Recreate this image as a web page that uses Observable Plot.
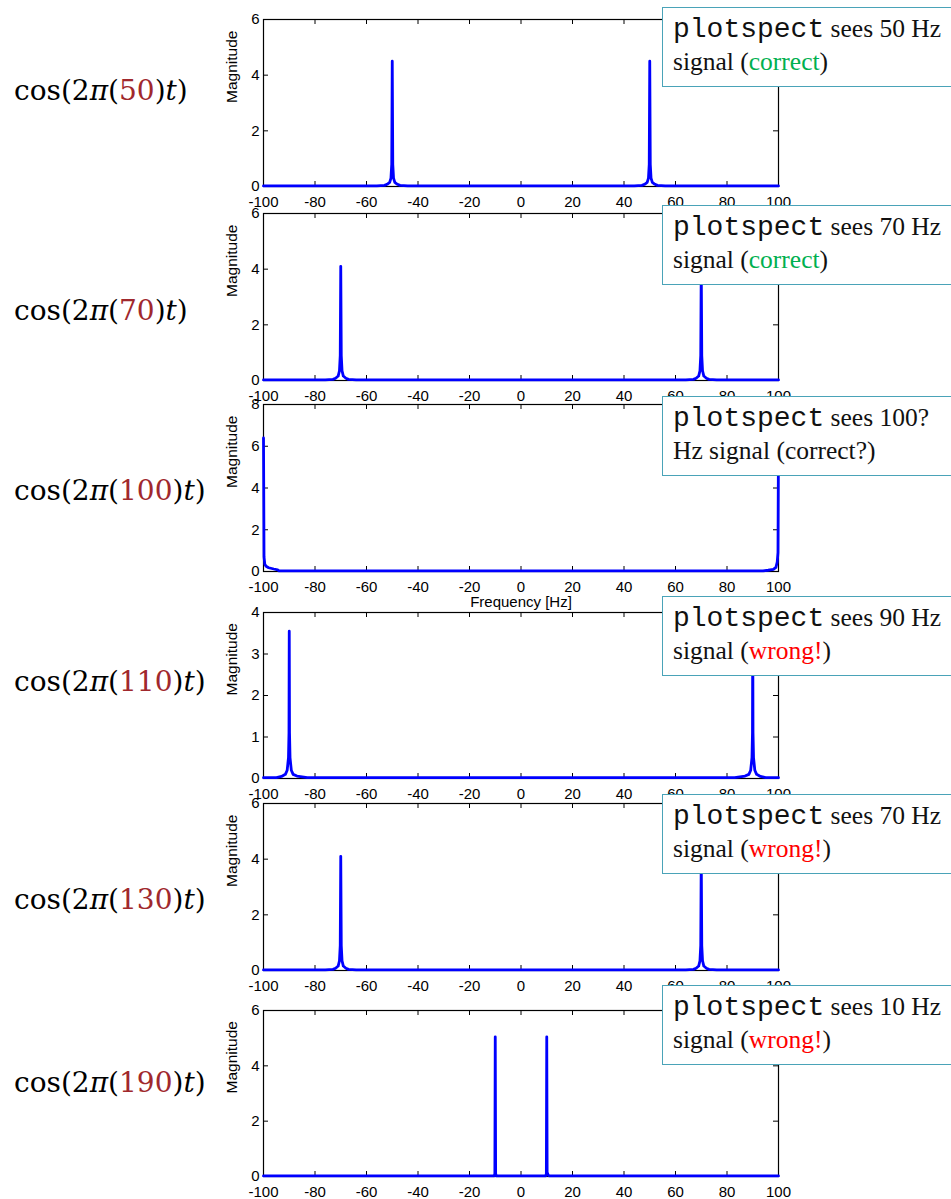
<!DOCTYPE html>
<html><head><meta charset="utf-8">
<script src="https://cdn.jsdelivr.net/npm/d3@7"></script>
<script src="https://cdn.jsdelivr.net/npm/@observablehq/plot@0.6"></script>
<style>
html,body{margin:0;padding:0;background:#fff;}
#page{position:relative;width:951px;height:1199px;overflow:hidden;background:#fff;}
.panel{position:absolute;left:0;}
.panel svg{background:transparent;}
.formula{position:absolute;left:14px;height:40px;line-height:40px;font-family:"DejaVu Serif",serif;font-size:28px;color:#000;white-space:nowrap;}
.formula i{font-style:italic;}
.formula .n{color:#a0282d;}
.box{position:absolute;left:662px;width:320px;height:80px;box-sizing:border-box;border:1.5px solid #4aa3b8;background:#fff;}
.box .ln{position:absolute;left:10px;height:30px;line-height:30px;white-space:nowrap;font-family:"Liberation Serif",serif;font-size:25.5px;color:#111;}
.box .mono{font-family:"Liberation Mono",monospace;font-size:28px;}
.box .ok{color:#00b050;}
.box .bad{color:#ff0000;}
</style></head>
<body><div id="page"></div>
<script>
// ---- data ----
const xTicks = [-100, -80, -60, -40, -20, 0, 20, 40, 60, 80, 100];
const signalFreqs = ["50", "70", "100", "110", "130", "190"];
const seenLine1 = ["sees 50 Hz", "sees 70 Hz", "sees 100?", "sees 90 Hz", "sees 70 Hz", "sees 10 Hz"];
const seenLine2 = ["signal (", "signal (", "Hz signal (correct?)", "signal (", "signal (", "signal ("];
const verdicts = ["correct", "correct", "", "wrong!", "wrong!", "wrong!"];
const verdictKinds = ["ok", "ok", "", "bad", "bad", "bad"];
const yMaxes = [6, 6, 8, 4, 6, 6];
const yTicks1 = [0, 2, 4, 6];
const yTicks2 = [0, 2, 4, 6];
const yTicks3 = [0, 2, 4, 6, 8];
const yTicks4 = [0, 1, 2, 3, 4];
const yTicks5 = [0, 2, 4, 6];
const yTicks6 = [0, 2, 4, 6];

// panel 1: cos(2pi 50 t)
const freq1 = [-100, -56, -53, -52, -51, -50.5, -50.2, -50, -49.8, -49.5, -49, -48, -47, -44,
               44, 47, 48, 49, 49.5, 49.8, 50, 50.2, 50.5, 51, 52, 53, 56, 100];
const mag1  = [0.02, 0.02, 0.04, 0.08, 0.15, 0.3, 0.8, 4.5, 0.8, 0.3, 0.15, 0.08, 0.04, 0.02,
               0.02, 0.04, 0.08, 0.15, 0.3, 0.8, 4.5, 0.8, 0.3, 0.15, 0.08, 0.04, 0.02, 0.02];
// panel 2: cos(2pi 70 t)
const freq2 = [-100, -76, -73, -72, -71, -70.5, -70.2, -70, -69.8, -69.5, -69, -68, -67, -64,
               64, 67, 68, 69, 69.5, 69.8, 70, 70.2, 70.5, 71, 72, 73, 76, 100];
const mag2  = [0.02, 0.02, 0.04, 0.08, 0.16, 0.35, 0.9, 4.1, 0.9, 0.35, 0.16, 0.08, 0.04, 0.02,
               0.02, 0.04, 0.08, 0.16, 0.35, 0.9, 4.1, 0.9, 0.35, 0.16, 0.08, 0.04, 0.02, 0.02];
// panel 3: cos(2pi 100 t)
const freq3 = [-100, -99.8, -99.5, -99, -98, -96, -94.5, -94, 94, 96, 98, 99, 99.5, 99.8, 100];
const mag3  = [6.4, 0.7, 0.35, 0.25, 0.18, 0.12, 0.08, 0.03, 0.03, 0.06, 0.1, 0.2, 0.45, 0.9, 6.4];
// panel 4: cos(2pi 110 t)
const freq4 = [-100, -95, -93, -91.5, -90.8, -90.3, -90.1, -90, -89.9, -89.7, -89.2, -88.5, -87, -85, -83,
               83, 85, 87, 88.5, 89.2, 89.7, 89.9, 90, 90.1, 90.3, 90.8, 91.5, 93, 95, 100];
const mag4  = [0.02, 0.02, 0.05, 0.1, 0.2, 0.5, 1.1, 3.55, 1.1, 0.5, 0.2, 0.1, 0.06, 0.04, 0.02,
               0.02, 0.04, 0.06, 0.1, 0.2, 0.5, 1.1, 3.55, 1.1, 0.5, 0.2, 0.1, 0.05, 0.02, 0.02];
// panel 5: cos(2pi 130 t)
const freq5 = [-100, -76, -73, -72, -71, -70.5, -70.2, -70, -69.8, -69.5, -69, -68, -67, -64,
               64, 67, 68, 69, 69.5, 69.8, 70, 70.2, 70.5, 71, 72, 73, 76, 100];
const mag5  = [0.02, 0.02, 0.04, 0.08, 0.16, 0.35, 0.9, 4.1, 0.9, 0.35, 0.16, 0.08, 0.04, 0.02,
               0.02, 0.04, 0.08, 0.16, 0.35, 0.9, 4.1, 0.9, 0.35, 0.16, 0.08, 0.04, 0.02, 0.02];
// panel 6: cos(2pi 190 t)
const freq6 = [-100, -10.4, -10.15, -10, -9.85, -9.6, 9.6, 9.85, 10, 10.15, 10.5, 11, 100];
const mag6  = [0.02, 0.02, 0.1, 5.05, 0.1, 0.02, 0.02, 0.1, 5.05, 0.15, 0.06, 0.02, 0.02];

// ---- layout ----
const frameTops = [19, 213, 404, 612, 803, 1010];
const plotHeights = [167, 167, 167, 166, 167, 166];
const formulaCenters = [91, 311, 491, 682, 900, 1083];
const boxTops = [7, 205, 396, 596, 794, 985];

const freqs = [freq1, freq2, freq3, freq4, freq5, freq6];
const mags = [mag1, mag2, mag3, mag4, mag5, mag6];
const yTicksAll = [yTicks1, yTicks2, yTicks3, yTicks4, yTicks5, yTicks6];

const page = document.getElementById("page");
const W = 800, ML = 263, MR = 22, MT = 20;
const plotW = W - ML - MR;

for (let i = 0; i < 6; i++) {
  const data = freqs[i].map((f, j) => ({f, m: mags[i][j]}));
  const pH = plotHeights[i];
  const MB = i === 2 ? 50 : 30;
  const yT = yTicksAll[i];
  const marks = [
    Plot.frame({stroke: "#000", strokeWidth: 1.2}),
    Plot.ruleX(xTicks, {x: d => d, insetTop: pH - 5, stroke: "#000"}),
    Plot.ruleX(xTicks, {x: d => d, insetBottom: pH - 5, stroke: "#000"}),
    Plot.ruleY(yT, {y: d => d, insetRight: plotW - 5, stroke: "#000"}),
    Plot.ruleY(yT, {y: d => d, insetLeft: plotW - 5, stroke: "#000"}),
    Plot.line(data, {x: "f", y: "m", stroke: "#0000ff", strokeWidth: 2.8, strokeLinejoin: "round"}),
    Plot.axisX(xTicks, {tickSize: 0, tickPadding: 10, tickFormat: d => String(d), label: null, fill: "#000"}),
    Plot.axisY(yT, {tickSize: 0, tickPadding: 4, tickFormat: d => String(d), label: null, fill: "#000"}),
    Plot.text(["Magnitude"], {text: d => d, frameAnchor: "left", dx: -31, rotate: -90, fontSize: 15.5, fill: "#000"})
  ];
  if (i === 2) {
    marks.push(Plot.text(["Frequency [Hz]"], {text: d => d, frameAnchor: "bottom", dy: 35, fontSize: 15, fill: "#000"}));
  }
  const svg = Plot.plot({
    width: W, height: MT + pH + MB,
    marginLeft: ML, marginRight: MR, marginTop: MT, marginBottom: MB,
    x: {domain: [-100, 100]},
    y: {domain: [0, yMaxes[i]]},
    style: {background: "transparent", fontFamily: "'Liberation Sans', Arial, sans-serif", fontSize: "15px", color: "#000", overflow: "visible"},
    marks
  });
  const div = document.createElement("div");
  div.className = "panel";
  div.style.top = (frameTops[i] - MT) + "px";
  div.appendChild(svg);
  page.appendChild(div);
}

for (let i = 0; i < 6; i++) {
  const f = document.createElement("div");
  f.className = "formula";
  f.style.top = (formulaCenters[i] - 20) + "px";
  f.innerHTML = `cos(2<i>π</i>(<span class="n">${signalFreqs[i]}</span>)<i>t</i>)`;
  page.appendChild(f);

  const b = document.createElement("div");
  b.className = "box";
  b.style.top = boxTops[i] + "px";
  const l1 = document.createElement("div");
  l1.className = "ln";
  l1.style.top = "6px";
  l1.innerHTML = `<span class="mono">plotspect</span> ${seenLine1[i]}`;
  const l2 = document.createElement("div");
  l2.className = "ln";
  l2.style.top = "39px";
  if (verdicts[i]) {
    l2.innerHTML = `${seenLine2[i]}<span class="${verdictKinds[i]}">${verdicts[i]}</span>)`;
  } else {
    l2.textContent = seenLine2[i];
  }
  b.appendChild(l1); b.appendChild(l2);
  page.appendChild(b);
}
</script></body></html>
